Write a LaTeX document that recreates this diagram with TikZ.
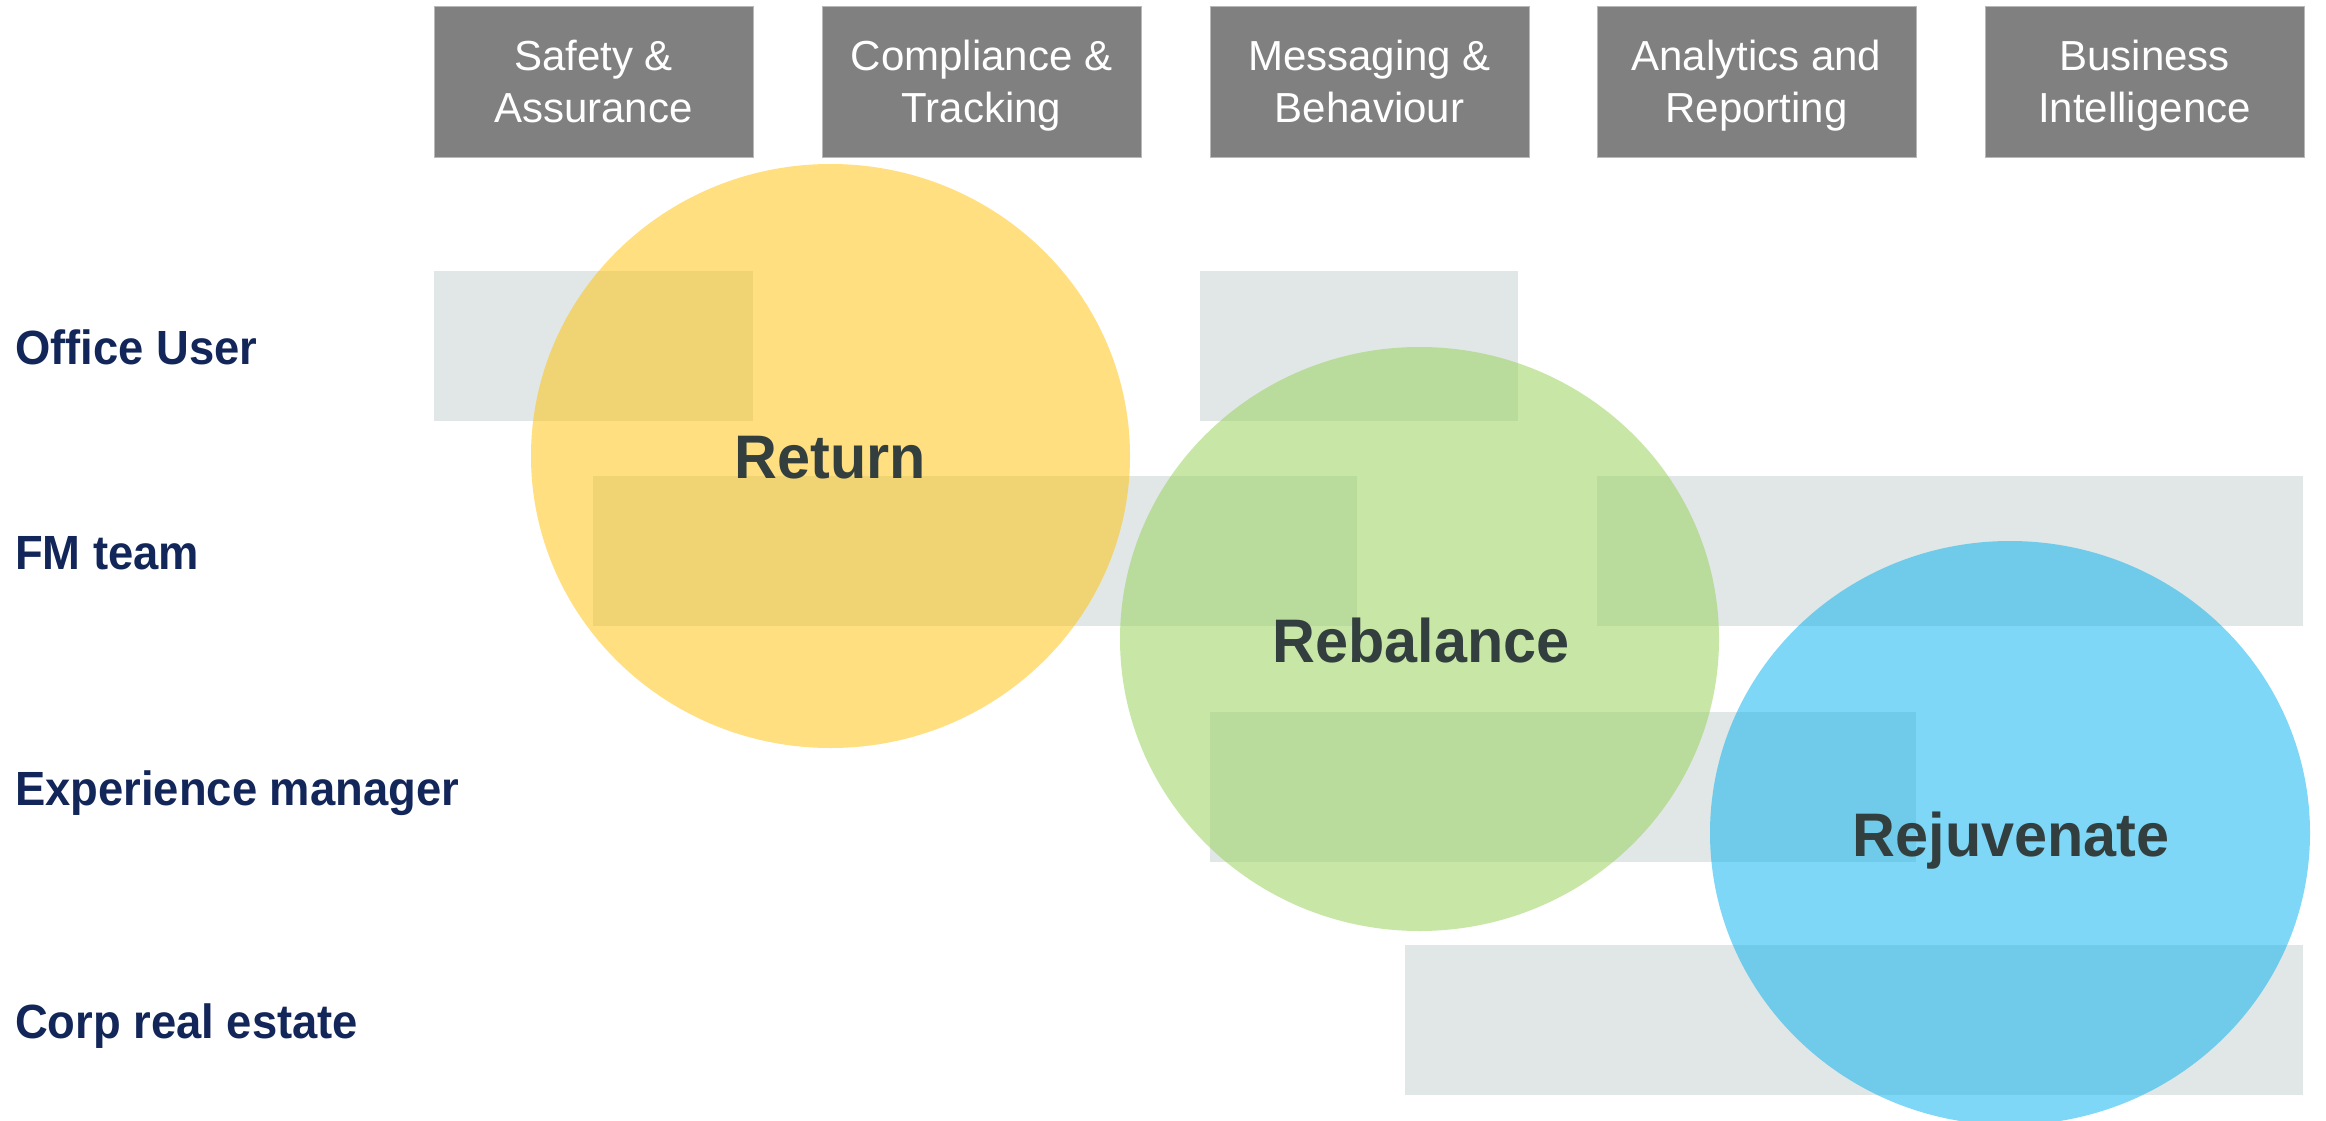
\documentclass[tikz,border=0pt]{standalone}
\usepackage{fontspec}
\usetikzlibrary{shapes.geometric}
\setmainfont{Liberation Sans}
\newfontfamily\hdrfont{Liberation Sans}
\newfontfamily\lblfont{Liberation Sans Bold}[FakeStretch=0.945]
\newfontfamily\circfont{Liberation Sans Bold}[FakeStretch=0.965]
\definecolor{hdrgray}{HTML}{808080}
\definecolor{hdredge}{HTML}{B8B8B8}
\definecolor{rowgray}{HTML}{E1E7E7}
\definecolor{navy}{HTML}{12265A}
\definecolor{slate}{HTML}{333F3F}
\definecolor{yelc}{HTML}{FFC000}
\definecolor{grnc}{HTML}{92D050}
\definecolor{bluc}{HTML}{00B0F0}
\newcommand{\hA}{\rule{0pt}{42pt}}
\newcommand{\hB}{\rule[-11pt]{0pt}{11pt}}
\begin{document}
\begin{tikzpicture}[x=1pt,y=-1pt,
  hdrbox/.style={rectangle, fill=hdrgray, draw=hdredge, line width=0.8pt, inner sep=0pt,
    minimum width=319pt, minimum height=151pt, text=white, align=center,
    font=\hdrfont\fontsize{42}{52}\selectfont},
  rowbox/.style={rectangle, fill=rowgray, draw=none, inner sep=0pt, minimum height=150pt},
  rowlbl/.style={anchor=base west, inner sep=0pt, text=navy, font=\lblfont\fontsize{48}{56}\selectfont},
  phase/.style={ellipse, draw=none, fill opacity=0.5, text opacity=1, inner sep=0pt,
    minimum width=599pt, minimum height=584pt, text=slate},
  phaselbl/.style={anchor=base, inner sep=0pt, text=slate, font=\circfont\fontsize{61.5}{70}\selectfont}
]
\useasboundingbox (0,0) rectangle (2326,1121);
\clip (0,0) rectangle (2326,1121);
\fill[white] (0,0) rectangle (2326,1121);

% header boxes
\node[hdrbox] (h1) at (593.5,81.5) {\hA Safety \&\\Assurance\hB};
\node[hdrbox] (h2) at (981.5,81.5) {\hA Compliance \&\\Tracking\hB};
\node[hdrbox] (h3) at (1369.5,81.5) {\hA Messaging \&\\Behaviour\hB};
\node[hdrbox] (h4) at (1756.5,81.5) {\hA Analytics and\\Reporting\hB};
\node[hdrbox] (h5) at (2144.5,81.5) {\hA Business\\Intelligence\hB};

% row boxes
\node[rowbox, minimum width=319pt] (r1a) at (593.5,346) {};
\node[rowbox, minimum width=318pt] (r1b) at (1359,346) {};
\node[rowbox, minimum width=764pt] (r2a) at (975,551) {};
\node[rowbox, minimum width=706pt] (r2b) at (1950,551) {};
\node[rowbox, minimum width=706pt] (r3) at (1563,787) {};
\node[rowbox, minimum width=898pt] (r4) at (1854,1020) {};

% row labels
\node[rowlbl] (l1) at (15,364) {Office User};
\node[rowlbl] (l2) at (15,569) {FM team};
\node[rowlbl] (l3) at (15,805) {Experience manager};
\node[rowlbl] (l4) at (15,1038) {Corp real estate};

% phase circles
\node[phase, fill=yelc] (cret) at (830.5,456) {};
\node[phase, fill=grnc] (creb) at (1419.5,639) {};
\node[phase, fill=bluc, minimum width=600pt] (crej) at (2010,833) {};

% phase labels
\node[phaselbl] (tret) at (830.5,478) {Return};
\node[phaselbl] (treb) at (1421,662) {Rebalance};
\node[phaselbl] (trej) at (2011,856) {Rejuvenate};
\end{tikzpicture}
\end{document}
